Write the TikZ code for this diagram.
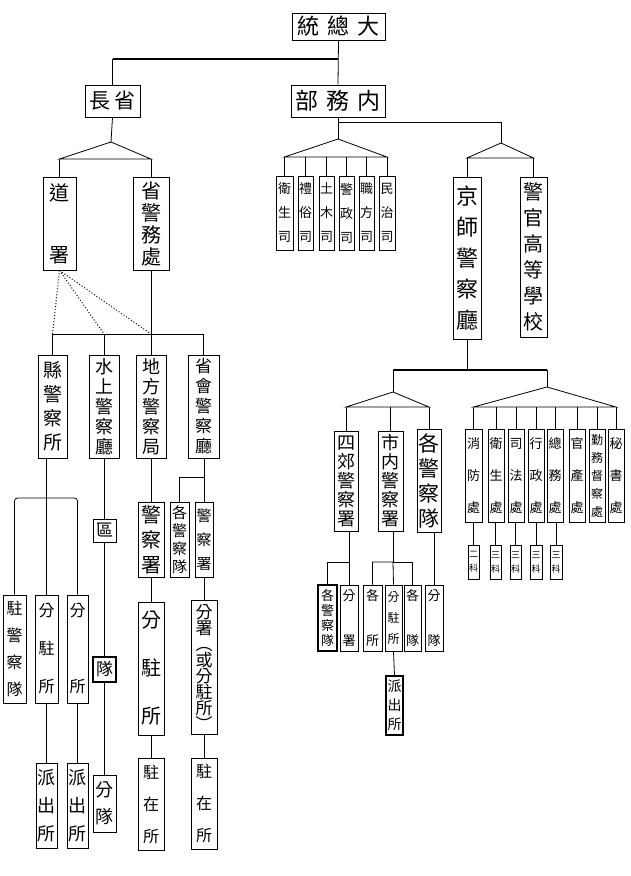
\documentclass[tikz,border=0pt]{standalone}
\usepackage{fontspec}
\newfontfamily\cjk{Noto Sans CJK TC}
\newcommand\bx[9][]{\node[bx,#1, minimum width={(#4-#2)*1pt}, minimum height={(#5-#3)*1pt}, font=\cjk\fontsize{#6}{#7}\selectfont] (#8) at ({(#2+#4)/2},{(#3+#5)/2}) {#9};}
\begin{document}
\begin{tikzpicture}[x=1pt,y=-1pt,
  bx/.style={draw, line width=0.8pt, inner sep=0pt, align=center},
  ln/.style={line width=0.8pt},
  thk/.style={line width=1.6pt},
  dotl/.style={line width=1pt, dotted},
  heavy/.style={line width=1.6pt}]
\useasboundingbox (0,0) rectangle (630,876);
% top
\bx{292}{13}{385}{40}{22}{24}{T}{統\hspace{8pt}總\hspace{8pt}大}
\bx{85}{85}{140}{117}{21}{22}{C}{長\hspace{5pt}省}
\bx{291}{85}{385}{117}{23}{24}{N}{部\hspace{8pt}務\hspace{8pt}内}
\coordinate (j0) at (338,59);
\draw[ln] (T.south) -- (N.north);
\draw[thk] (C.north |- j0) -- (j0);
\draw[ln] (C.north) -- (C.north |- j0);
% left branch
\bx{43}{177}{76}{270}{20}{22}{D}{道\\[40pt]署}
\bx{133}{177}{169}{270}{20}{22}{P}{省\\警\\務\\處}
\coordinate (a1) at (111,142);
\coordinate (b1l) at (59.5,159);
\coordinate (b1r) at (151,159);
\draw[ln] (C.south) -- (a1);
\draw[ln] (b1l) -- (a1) -- (b1r) -- cycle;
\draw[ln] (b1l) -- (D.north);
\draw[ln] (b1r) -- (P.north);
% second row
\bx{38}{355}{67}{458}{19}{24}{K}{縣\\警\\察\\所}
\bx{89}{355}{119}{458}{18}{20}{W}{水\\上\\警\\察\\廳}
\bx{136}{355}{166}{458}{18}{20}{L}{地\\方\\警\\察\\局}
\bx{188}{355}{219}{458}{17}{20}{H}{省\\會\\警\\察\\廳}
\coordinate (r2) at (130,334);
\draw[ln] (K.north |- r2) -- (H.north |- r2);
\draw[ln] (K.north |- r2) -- (K.north);
\draw[ln] (W.north |- r2) -- (W.north);
\draw[ln] (H.north |- r2) -- (H.north);
\draw[ln] (P.south) -- (L.north);
\draw[dotl] (D.south) -- (K.north |- r2);
\draw[dotl] (D.south) -- (W.north |- r2);
\draw[dotl] (D.south) -- (L.north |- r2);
% county column
\bx{3}{595}{26}{703}{16}{27}{Z}{駐\\警\\察\\隊}
\bx{35}{595}{58}{703}{16}{38}{F2}{分\\駐\\所}
\bx{67}{595}{88}{703}{16}{20}{F3}{分\\[56pt]所}
\bx{36}{763}{57}{848}{18}{28}{E1}{派\\出\\所}
\bx{67}{763}{88}{848}{18}{28}{E2}{派\\出\\所}
\coordinate (br) at (46,498);
\draw[ln] (K.south -| F2.north) -- (F2.north);
\draw[ln, rounded corners=3pt] (Z.north) |- (F3.north |- br) -- (F3.north);
\draw[ln] (F2.south) -- (E1.north);
\draw[ln] (F3.south) -- (E2.north);
% water column
\bx{93}{519}{116}{542}{17}{20}{Q}{區}
\bx[heavy]{93}{657}{116}{682}{17}{20}{Du}{隊}
\bx{93}{775}{116}{832}{18}{27}{FD}{分\\隊}
\draw[ln] (W.south -| Q.north) -- (Q.north);
\draw[ln] (Q.south) -- (Du.north);
\draw[ln] (Du.south) -- (FD.north);
% local bureau column
\bx{138}{502}{164}{577}{20}{25}{S1}{警\\察\\署}
\bx{138}{602}{164}{735}{20}{48}{Y1}{分\\駐\\所}
\bx{138}{758}{164}{850}{16}{32}{Z1}{駐\\在\\所}
\draw[ln] (L.south) -- (S1.north);
\draw[ln] (S1.south) -- (Y1.north);
\draw[ln] (Y1.south) -- (Z1.north);
% provincial capital column
\bx{170}{502}{189}{577}{15}{18}{G1}{各\\警\\察\\隊}
\bx{195}{502}{213}{577}{15}{24}{S2}{警\\察\\署}
\bx{191}{600}{217}{734}{17}{16}{Y2}{分\\署\\︵\\或\\分\\駐\\所\\︶}
\bx{191}{758}{217}{849}{16}{32}{Z2}{駐\\在\\所}
\coordinate (jH) at (204,477);
\draw[ln] (H.south -| jH) -- (jH);
\draw[ln] (G1.north) |- (jH) -- (S2.north);
\draw[ln] (S2.south) -- (Y2.north);
\draw[ln] (Y2.south) -- (Z2.north);
% ministry of interior
\foreach \i/\xa/\xb/\t in {1/276/293/{衛\\生\\司},2/298/313/{禮\\俗\\司},3/319/334/{土\\木\\司},4/339/354/{警\\政\\司},5/359/374/{職\\方\\司},6/379/395/{民\\治\\司}}{
  \bx{\xa}{176}{\xb}{250}{13}{24}{s\i}{\t}
}
\coordinate (a2) at (338,139);
\coordinate (jN) at (338,122);
\draw[ln] (N.south) -- (a2);
\draw[ln] (s1.north |- 0,157) coordinate (b2l) -- (a2) -- (s6.north |- 0,157) coordinate (b2r) -- cycle;
\foreach \i in {1,...,6}{\draw[ln] (s\i.north |- b2l) -- (s\i.north);}
\bx{453}{177}{481}{339}{22}{31}{J}{京\\師\\警\\察\\廳}
\bx{520}{177}{547}{337}{20}{26}{X}{警\\官\\高\\等\\學\\校}
\coordinate (a3) at (501,143);
\draw[ln] (jN) -| (a3);
\draw[ln] (J.north |- 0,158) coordinate (b3l) -- (a3) -- (X.north |- 0,158) coordinate (b3r) -- cycle;
\draw[ln] (b3l) -- (J.north);
\draw[ln] (b3r) -- (X.north);
% capital police
\coordinate (jJ) at (467,370);
\coordinate (a4) at (393,392);
\coordinate (a5) at (547,387);
\draw[ln] (J.south) -- (jJ);
\draw[thk] (a4 |- jJ) -- (a5 |- jJ);
\draw[ln] (a4 |- jJ) -- (a4);
\draw[ln] (a5 |- jJ) -- (a5);
\bx{334}{431}{358}{531}{18}{19}{M1}{四\\郊\\警\\察\\署}
\bx{378}{431}{403}{531}{18}{19}{M2}{市\\内\\警\\察\\署}
\bx{417}{429}{441}{532}{21}{25}{M3}{各\\警\\察\\隊}
\draw[ln] (M1.north |- 0,407) coordinate (b4l) -- (a4) -- (M3.north |- 0,407) coordinate (b4r) -- cycle;
\draw[ln] (b4l) -- (M1.north);
\draw[ln] (M2.north |- b4l) -- (M2.north);
\draw[ln] (b4r) -- (M3.north);
\foreach \i/\xa/\xb/\t/\fs/\ld in {1/465/482/{消\\防\\處}/13/32,2/488/504/{衛\\生\\處}/13/32,3/508/524/{司\\法\\處}/13/32,4/528/544/{行\\政\\處}/13/32,5/547/563/{總\\務\\處}/13/32,6/569/585/{官\\產\\處}/13/32,7/589/605/{勤\\務\\督\\察\\處}/12/18,8/608/624/{秘\\書\\處}/13/32}{
  \bx{\xa}{429}{\xb}{522}{\fs}{\ld}{c\i}{\t}
}
\draw[ln] (c1.north |- 0,407) coordinate (b5l) -- (a5) -- (c8.north |- 0,407) coordinate (b5r) -- cycle;
\foreach \i in {1,...,8}{\draw[ln] (c\i.north |- b5l) -- (c\i.north);}
\foreach \i/\xa/\xb/\n in {1/468/479/二,2/490/501/三,3/510/521/三,4/530/542/三,5/550/562/三}{
  \bx{\xa}{545}{\xb}{579}{9}{14}{k\i}{\n\\科}
  \draw[ln] (c\i.south -| k\i.north) -- (k\i.north);
}
% lower middle
\bx[heavy]{318}{585}{337}{651}{13}{15}{L1}{各\\警\\察\\隊}
\bx{340}{585}{358}{651}{13}{15}{L2}{分\\[30pt]署}
\bx{363}{585}{382}{651}{13}{15}{L3}{各\\[30pt]所}
\bx{385}{585}{402}{651}{12}{21}{L4}{分\\駐\\所}
\bx{404}{585}{421}{651}{13}{15}{L5}{各\\[30pt]隊}
\bx{425}{585}{443}{651}{13}{15}{L6}{分\\[30pt]隊}
\bx[heavy]{386}{676}{403}{735}{14}{19}{E3}{派\\出\\所}
\coordinate (m1) at (349,562);
\coordinate (m2) at (393,562);
\draw[ln] (M1.south -| m1) -- (m1);
\draw[ln] (L1.north) |- (m1) -- (L2.north);
\draw[ln] (M2.south -| m2) -- (m2);
\draw[ln] (L3.north) |- (m2) -- (L4.north);
\draw[ln] (m2) -| (L5.north);
\draw[ln] (M3.south -| L6.north) -- (L6.north);
\draw[ln] (L4.south) -- (E3.north);
\end{tikzpicture}
\end{document}
